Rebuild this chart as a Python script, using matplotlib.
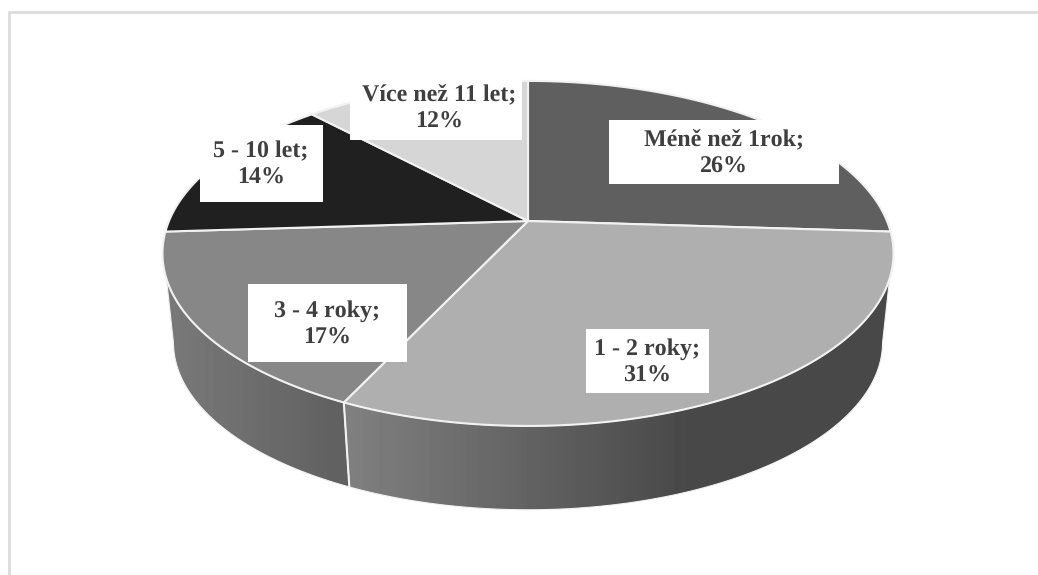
import numpy as np
import matplotlib
matplotlib.use('Agg')
import matplotlib.pyplot as plt
from matplotlib.patches import Polygon, Rectangle

plt.rcParams['text.hinting'] = 'no_hinting'
plt.rcParams['text.hinting_factor'] = 1

categories = ['Méně než 1rok', '1 - 2 roky', '3 - 4 roky', '5 - 10 let', 'Více než 11 let']
shares = [26, 31, 17, 14, 12]

top_colours = ['#5f5f5f', '#afafaf', '#878787', '#202020', '#d6d6d6']
text_colour = '#3f3f3f'
rim_colour = '#f2f2f2'

# label boxes: left, top, right, bottom in pixels
label_boxes = [(609, 120, 839, 184), (586, 329, 709, 393), (248, 284, 407, 362),
               (200, 125, 323, 202), (350, 76, 522, 140)]
label_centres = [(724, 154), (647, 362), (327, 324), (261, 165), (439, 109)]

# pie disc, projected with a small perspective
cx, cy = 528, 221
rx, ry = 359, 166.4
persp = 0.188
shrink = 0.97
depth = 90


def disc_point(theta, lower=False):
    # theta runs clockwise from twelve o'clock, in degrees
    t = np.radians(theta)
    d = 1 + persp * np.cos(t)
    k = shrink if lower else 1.0
    off = depth if lower else 0
    return cx + k * rx * np.sin(t) / d, cy + off - k * ry * np.cos(t) / d


def arc(start, end, lower=False):
    return np.column_stack(disc_point(np.linspace(start, end, 200), lower))


def side_wall(ax, upper_range, lower_range, stops_x, stops_grey):
    # wall of one slice, shaded from left to right
    outline = np.vstack([arc(*upper_range), arc(*lower_range, True)[::-1]])
    shade = np.interp(np.arange(100, 960), stops_x, stops_grey)
    img = ax.imshow(shade[np.newaxis, :], extent=(100, 960, 600, 0), cmap='gray',
                    vmin=0, vmax=255, aspect='auto', zorder=1)
    clip = Polygon(outline, closed=True, transform=ax.transData)
    img.set_clip_path(clip)
    ax.add_patch(Polygon(outline, closed=True, fill=False, edgecolor=rim_colour, lw=0.8, zorder=1.5))


fig = plt.figure(figsize=(10.38, 5.75), dpi=100)
ax = fig.add_axes([0, 0, 1, 1])

edges = np.concatenate([[0], np.cumsum(shares)]) * 360 / sum(shares)

# side walls, running between the tangent points of the two discs
side_wall(ax, (109, edges[2]), (101, edges[2]), [346, 690, 900], [128, 72, 72])
side_wall(ax, (edges[2], 251), (edges[2], 259), [160, 345], [122, 96])

# top faces
for i, colour in enumerate(top_colours):
    pts = np.vstack([[cx, cy], arc(edges[i], edges[i + 1])])
    ax.add_patch(Polygon(pts, closed=True, facecolor=colour, edgecolor=rim_colour, lw=1.5,
                         joinstyle='round', zorder=2))

# seam between the two visible walls
x0, y0 = disc_point(edges[2])
x1, y1 = disc_point(edges[2], True)
ax.plot([x0, x1], [y0, y1], color=rim_colour, lw=1.5, zorder=3)

# data labels on white boxes
for cat, share, box, centre in zip(categories, shares, label_boxes, label_centres):
    ax.add_patch(Rectangle((box[0], box[1]), box[2] - box[0], box[3] - box[1],
                           facecolor='white', edgecolor='none', zorder=4))
    ax.text(centre[0], centre[1], f'{cat};\n{share}%', ha='center', va='center', color=text_colour,
            fontsize=17.5, fontweight='bold', family='Liberation Serif', linespacing=1.3, zorder=5)

# chart frame
ax.plot([8.5, 8.5], [575, 12], color='#dcdcdc', lw=2, solid_capstyle='butt', zorder=0)
ax.plot([7.5, 1038], [12, 12], color='#dcdcdc', lw=2, solid_capstyle='butt', zorder=0)

ax.set_xlim(0, 1038)
ax.set_ylim(575, 0)
ax.axis('off')

fig.savefig('out.png', dpi=100)
